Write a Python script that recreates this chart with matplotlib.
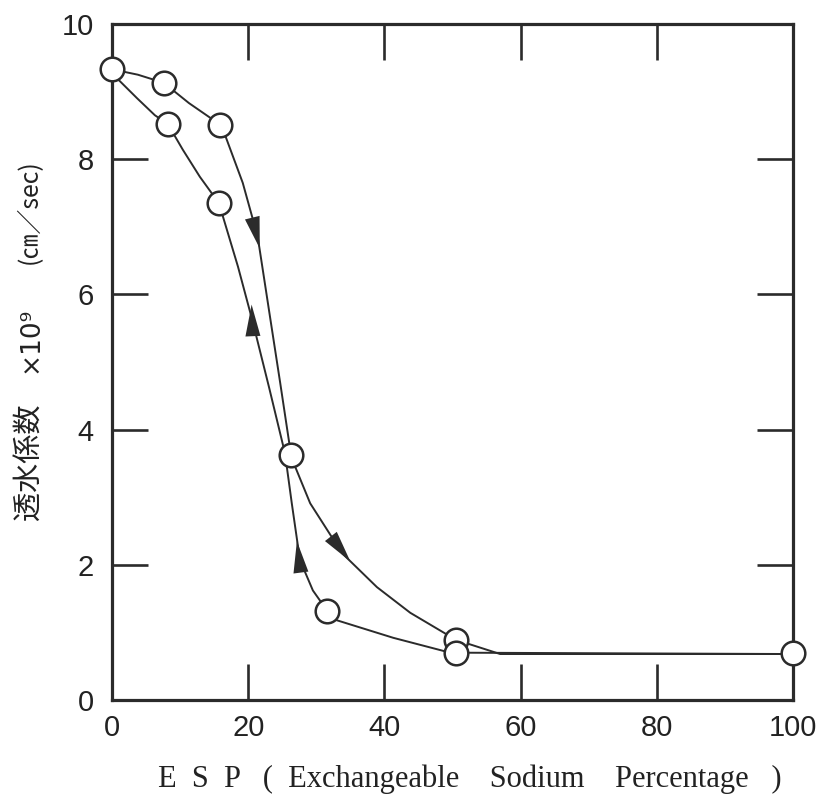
import matplotlib
matplotlib.use("Agg")
import matplotlib.pyplot as plt

# ---- data ----
# increasing-ESP branch (downward arrows): traced path and measured points
down_path_x = [0, 3.8, 7.6, 11.3, 15.9, 16.7, 19.2, 21.4, 23.2, 24.7, 26.3, 26.9, 29.1, 33.8, 38.9, 43.8, 50.5, 57.0, 100]
down_path_y = [9.33, 9.25, 9.13, 8.83, 8.51, 8.33, 7.65, 6.85, 5.67, 4.69, 3.62, 3.45, 2.91, 2.17, 1.67, 1.29, 0.89, 0.68, 0.68]
down_pts_x = [0, 7.6, 15.9, 26.3, 50.5]
down_pts_y = [9.33, 9.13, 8.51, 3.62, 0.89]

# decreasing-ESP branch (upward arrows)
up_path_x = [100, 50.5, 48.9, 41.3, 33.0, 31.6, 29.5, 27.6, 26.4, 25.4, 23.05, 20.65, 18.5, 15.7, 12.9, 10.4, 8.2, 6.3, 3.7, 1.0, 0]
up_path_y = [0.68, 0.70, 0.72, 0.92, 1.18, 1.32, 1.62, 2.07, 2.91, 3.65, 4.63, 5.60, 6.41, 7.35, 7.74, 8.14, 8.52, 8.65, 8.90, 9.17, 9.33]
up_pts_x = [100, 50.5, 31.6, 15.7, 8.2]
up_pts_y = [0.70, 0.70, 1.32, 7.35, 8.52]

# arrow heads: (tail x, tail y) -> (tip x, tip y)
arrow_tail_x = [20.44, 32.6, 27.75, 20.75]
arrow_tail_y = [7.20, 2.36, 1.88, 5.25]
arrow_tip_x = [21.7, 35.0, 27.15, 20.5]
arrow_tip_y = [6.68, 2.05, 2.35, 5.85]

x_ticks = [0, 20, 40, 60, 80, 100]
y_ticks = [0, 2, 4, 6, 8, 10]

ink = "#2b2b2b"
txt = "#222222"

fig = plt.figure(figsize=(8.19, 8.05), dpi=100)
ax = fig.add_axes([112/819, 1 - 700/805, (793-112)/819, (700-24)/805])
ax.set_xlim(0, 100)
ax.set_ylim(0, 10)

ax.plot(down_path_x, down_path_y, color=ink, lw=1.4, zorder=2, solid_joinstyle="round")
ax.plot(up_path_x, up_path_y, color=ink, lw=1.4, zorder=2, solid_joinstyle="round")

mk = dict(marker="o", ls="none", ms=17, mfc="white", mec=ink, mew=1.8, zorder=4, clip_on=False)
ax.plot(down_pts_x, down_pts_y, **mk)
ax.plot(up_pts_x, up_pts_y, **mk)

for tx, ty, hx, hy in zip(arrow_tail_x, arrow_tail_y, arrow_tip_x, arrow_tip_y):
    ax.annotate("", xy=(hx, hy), xytext=(tx, ty),
                arrowprops=dict(arrowstyle="-|>,head_length=1.9,head_width=0.45",
                                color=ink, lw=0.0, shrinkA=0, shrinkB=0,
                                mutation_scale=12), zorder=3)

for s in ax.spines.values():
    s.set_linewidth(2.3)
    s.set_color(ink)

ax.set_xticks(x_ticks)
ax.set_yticks(y_ticks)
ax.set_xticklabels([str(v) for v in x_ticks])
ax.set_yticklabels([str(v) for v in y_ticks])
ax.tick_params(direction="in", length=26, width=1.9, color=ink,
               top=True, right=True, labeltop=False, labelright=False,
               labelsize=21, labelcolor=txt)
ax.tick_params(axis="x", pad=10)
ax.tick_params(axis="y", pad=13)
for lab in ax.get_xticklabels() + ax.get_yticklabels():
    lab.set_family(["Liberation Sans", "DejaVu Sans"])

fig.text(470/819, 1 - 779/805, "E  S  P   (  Exchangeable    Sodium    Percentage   )",
         ha="center", va="center", fontsize=22, color=txt,
         family=["Liberation Serif", "DejaVu Serif"])

cjk = ["Noto Sans CJK JP", "DejaVu Sans"]
fig.text(30/819, 1 - 462/805, "透水係数", rotation=90, ha="center", va="center",
         fontsize=21, color=txt, family=cjk)
fig.text(30/819, 1 - 340/805, "×10⁹", rotation=90, ha="center", va="center",
         fontsize=19, color=txt, family=["DejaVu Sans", "Noto Sans CJK JP"])
fig.text(30/819, 1 - 212/805, "(㎝／sec)", rotation=90, ha="center", va="center",
         fontsize=18, color=txt, family=cjk)

fig.savefig("out.png", dpi=100)
